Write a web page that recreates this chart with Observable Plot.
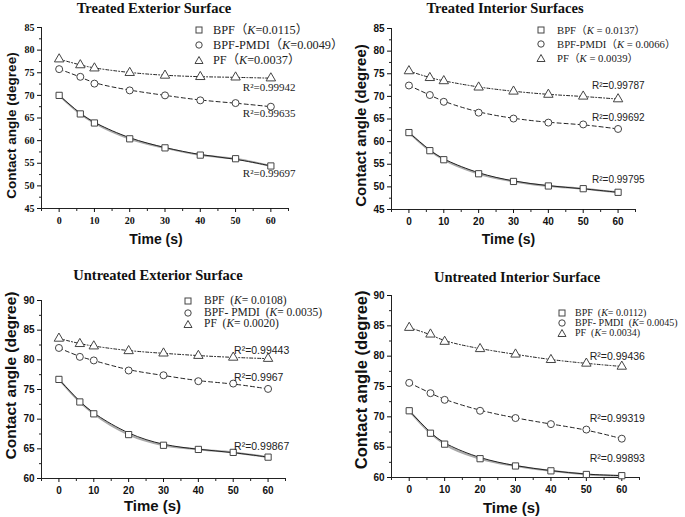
<!DOCTYPE html>
<html>
<head>
<meta charset="utf-8">
<script src="https://cdn.jsdelivr.net/npm/d3@7"></script>
<script src="https://cdn.jsdelivr.net/npm/@observablehq/plot@0.6"></script>
<style>
  body { margin: 0; background: white; }
  #fig { position: relative; width: 685px; height: 517px; overflow: hidden; background: white; }
  .title { position: absolute; width: 300px; text-align: center; font-family: "Liberation Serif", "Times New Roman", serif; font-weight: bold; font-size: 14.5px; line-height: 16px; color: #111; }
  .leg { position: absolute; white-space: pre; font-family: "Liberation Serif", "Times New Roman", "Noto Sans CJK SC", serif; color: #222; }
  .legsym { position: absolute; }
</style>
</head>
<body>
<div id="fig"></div>
<script>
/* Datos */
const times = [0, 6, 10, 20, 30, 40, 50, 60]
const seriesNames = ["BPF", "BPF-PMDI", "PF"]
const untreatedNames = ["BPF", "BPF- PMDI", "PF"]
const xTicks = [0, 10, 20, 30, 40, 50, 60]
const xMinor = [-5, 5, 15, 25, 35, 45, 55, 65]
const yTicksTreated = [45, 50, 55, 60, 65, 70, 75, 80, 85]
const yTicksUntreated = [60, 65, 70, 75, 80, 85, 90]

// Treated exterior
const teBPF = [70.0, 65.9, 63.9, 60.4, 58.4, 56.8, 56.0, 54.4]
const tePMDI = [75.8, 74.1, 72.6, 71.1, 70.0, 68.9, 68.3, 67.5]
const tePF = [78.0, 76.7, 76.0, 75.0, 74.4, 74.1, 74.0, 73.8]
const teK = ["0.0115", "0.0049", "0.0037"]
const teR2 = ["0.99697", "0.99635", "0.99942"]

// Treated interior
const tiBPF = [62.0, 58.0, 56.0, 52.9, 51.2, 50.2, 49.6, 48.8]
const tiPMDI = [72.4, 70.3, 68.8, 66.4, 65.1, 64.2, 63.8, 62.8]
const tiPF = [75.6, 74.1, 73.4, 72.0, 71.1, 70.4, 70.0, 69.4]
const tiK = ["0.0137", "0.0066", "0.0039"]
const tiR2 = ["0.99795", "0.99692", "0.99787"]

// Untreated exterior
const ueBPF = [76.7, 72.9, 70.9, 67.4, 65.6, 64.9, 64.4, 63.6]
const uePMDI = [82.0, 80.5, 79.9, 78.2, 77.4, 76.4, 76.0, 75.1]
const uePF = [83.6, 82.7, 82.3, 81.5, 81.1, 80.7, 80.4, 80.2]
const ueK = ["0.0108", "0.0035", "0.0020"]
const ueR2 = ["0.99867", "0.9967", "0.99443"]

// Untreated interior
const uiBPF = [71.0, 67.3, 65.5, 63.1, 61.9, 61.1, 60.5, 60.3]
const uiPMDI = [75.6, 73.9, 72.8, 71.0, 69.8, 68.8, 67.9, 66.4]
const uiPF = [84.7, 83.6, 82.4, 81.2, 80.3, 79.4, 78.8, 78.3]
const uiK = ["0.0112", "0.0045", "0.0034"]
const uiR2 = ["0.99893", "0.99319", "0.99436"]

const symbols = ["square", "circle", "triangle"]
const dashes = [null, "4,3", "3,2,1,2"]
const SANS = "'Liberation Sans', Arial, sans-serif"
const SERIF = "'Liberation Serif', 'Times New Roman', serif"

const panels = [
  {
    title: "Treated Exterior Surface", series: [teBPF, tePMDI, tePF], k: teK, r2: teR2, names: seriesNames, yTicks: yTicksTreated,
    left: 0, top: 18, mT: 9, mB: 45, fW: 247, fH: 181, serif: true,
    yLabelSize: 13.5, yLabelDy: 7.5, xLabelSize: 14, xLabelDx: -9, xLabelDy: 31,
    r2dx: -28, r2dy: [8, 7, 9], r2Size: 11, titleX: 154, titleY: 7.5,
    leg: {x: 199, tx: 213, ys: [30, 45, 60], size: 12.3},
    fmt: (n, k) => `${n}（<i>K</i>=${k}）`
  },
  {
    title: "Treated Interior Surfaces", series: [tiBPF, tiPMDI, tiPF], k: tiK, r2: tiR2, names: seriesNames, yTicks: yTicksTreated,
    left: 350, top: 19, mT: 9, mB: 45, fW: 244, fH: 181, serif: false,
    yLabelSize: 15, yLabelDy: 6.5, xLabelSize: 14, xLabelDx: -5, xLabelDy: 30,
    r2dx: -26, r2dy: [-13, -11, -13], r2Size: 10, titleX: 505, titleY: 7.5,
    leg: {x: 541, tx: 557, ys: [30, 44, 58], size: 10.7},
    fmt: (n, k) => `${n}（<i>K</i> = ${k}）`
  },
  {
    title: "Untreated Exterior Surface", series: [ueBPF, uePMDI, uePF], k: ueK, r2: ueR2, names: untreatedNames, yTicks: yTicksUntreated,
    left: 0, top: 290, mT: 10, mB: 40, fW: 244, fH: 178, serif: false,
    yLabelSize: 15.5, yLabelDy: -14, xLabelSize: 15, xLabelDx: -11, xLabelDy: 28,
    r2dx: -34, r2dy: [-11, -11, -8], r2Size: 10.5, titleX: 158, titleY: 274.7,
    leg: {x: 188, tx: 204, ys: [301, 312.5, 324], size: 11.5},
    fmt: (n, k) => `${n}  (<i>K</i>= ${k})`
  },
  {
    title: "Untreated Interior Surface", series: [uiBPF, uiPMDI, uiPF], k: uiK, r2: uiR2, names: untreatedNames, yTicks: yTicksUntreated,
    left: 350, top: 286, mT: 9, mB: 40, fW: 248, fH: 182, serif: false,
    yLabelSize: 16.5, yLabelDy: -6.6, xLabelSize: 15, xLabelDx: -4, xLabelDy: 31,
    r2dx: -32, r2dy: [-17, -20, -10], r2Size: 10.5, titleX: 517, titleY: 277,
    leg: {x: 562, tx: 575, ys: [313, 323, 333], size: 10},
    fmt: (n, k) => `${n}  (<i>K</i>= ${k})`
  }
]

const fig = document.getElementById("fig")

function drawPanel(p) {
  const rows = []
  p.series.forEach((vals, s) => vals.forEach((v, i) => rows.push({t: times[i], v: v, s: seriesNames[s], idx: s})))
  const yMinor = p.yTicks.slice(1).map(v => v - 2.5)
  const tickFamily = p.serif ? SERIF : SANS
  const ink = "#222"

  const marks = [
    Plot.ruleX([-5], {stroke: ink}),
    Plot.ruleY([p.yTicks[0]], {stroke: ink}),
    Plot.axisY({ticks: p.yTicks, tickSize: 4, tickPadding: 3, fontSize: 10, fontWeight: "bold", fontFamily: tickFamily, label: null, color: "#111"}),
    Plot.axisY({ticks: yMinor, tickSize: 2, tickFormat: () => "", label: null, color: ink}),
    Plot.axisX({ticks: xTicks, tickSize: 4, tickPadding: 4, fontSize: 10, fontWeight: "bold", fontFamily: tickFamily, label: null, color: "#111"}),
    Plot.axisX({ticks: xMinor, tickSize: 3, tickFormat: () => "", label: null, color: ink}),
  ]

  p.series.forEach((vals, s) => {
    const d = rows.filter(r => r.idx === s)
    if (s === 0) {
      // sombra gris de la curva solida
      marks.push(Plot.line(d, {x: "t", y: "v", curve: "monotone-x", stroke: "#aaa", strokeWidth: 2}))
    }
    marks.push(Plot.line(d, {x: "t", y: "v", curve: "basis", stroke: ink, strokeWidth: 1, strokeDasharray: dashes[s]}))
  })

  marks.push(Plot.dot(rows, {x: "t", y: "v", symbol: "s", r: 3.5, stroke: "#444", strokeWidth: 1, fill: "white"}))

  p.series.forEach((vals, s) => {
    const last = rows.filter(r => r.idx === s).slice(-1)
    marks.push(Plot.text(last, {
      x: "t", y: "v", text: () => "R²=" + p.r2[s],
      textAnchor: "start", dx: p.r2dx, dy: p.r2dy[s],
      fontSize: p.r2Size, fontFamily: p.serif ? SERIF : SANS, fill: "#222"
    }))
  })

  marks.push(Plot.text(["Contact angle (degree)"], {
    frameAnchor: "left", rotate: -90, dx: -30, dy: p.yLabelDy, text: d => d,
    textAnchor: "middle", lineAnchor: "middle",
    fontSize: p.yLabelSize, fontWeight: "bold", fontFamily: SANS, fill: "#111"
  }))
  marks.push(Plot.text(["Time (s)"], {
    frameAnchor: "bottom", dx: p.xLabelDx, dy: p.xLabelDy, text: d => d,
    textAnchor: "middle", lineAnchor: "middle",
    fontSize: p.xLabelSize, fontWeight: "bold", fontFamily: SANS, fill: "#111"
  }))

  const chart = Plot.plot({
    width: 41 + p.fW + 14,
    height: p.mT + p.fH + p.mB,
    marginLeft: 41,
    marginRight: 14,
    marginTop: p.mT,
    marginBottom: p.mB,
    x: {domain: [-5, 65]},
    y: {domain: [p.yTicks[0], p.yTicks[p.yTicks.length - 1]]},
    symbol: {domain: seriesNames, range: symbols},
    style: {fontFamily: SANS, fontSize: "10px", background: "transparent", overflow: "visible"},
    marks: marks
  })
  chart.style.position = "absolute"
  chart.style.left = p.left + "px"
  chart.style.top = p.top + "px"
  fig.appendChild(chart)

  /* Titulo */
  const t = document.createElement("div")
  t.className = "title"
  t.textContent = p.title
  t.style.left = (p.titleX - 150) + "px"
  t.style.top = (p.titleY - 8) + "px"
  fig.appendChild(t)

  /* Leyenda */
  p.names.forEach((n, s) => {
    const y = p.leg.ys[s]
    const sym = document.createElementNS("http://www.w3.org/2000/svg", "svg")
    sym.setAttribute("width", 10)
    sym.setAttribute("height", 10)
    sym.setAttribute("class", "legsym")
    sym.style.left = (p.leg.x - 5) + "px"
    sym.style.top = (y - 5) + "px"
    let shape
    if (s === 0) shape = '<rect x="2" y="2" width="6" height="6" fill="white" stroke="#444"/>'
    else if (s === 1) shape = '<circle cx="5" cy="5" r="3.2" fill="white" stroke="#444"/>'
    else shape = '<path d="M5,1.5L9,8.5H1Z" fill="white" stroke="#444"/>'
    sym.innerHTML = shape
    fig.appendChild(sym)

    const lab = document.createElement("div")
    lab.className = "leg"
    lab.innerHTML = p.fmt(n, p.k[s])
    lab.style.left = p.leg.tx + "px"
    lab.style.fontSize = p.leg.size + "px"
    lab.style.lineHeight = p.leg.size + "px"
    lab.style.top = (y - p.leg.size / 2) + "px"
    fig.appendChild(lab)
  })
}

panels.forEach(drawPanel)
</script>
</body>
</html>
